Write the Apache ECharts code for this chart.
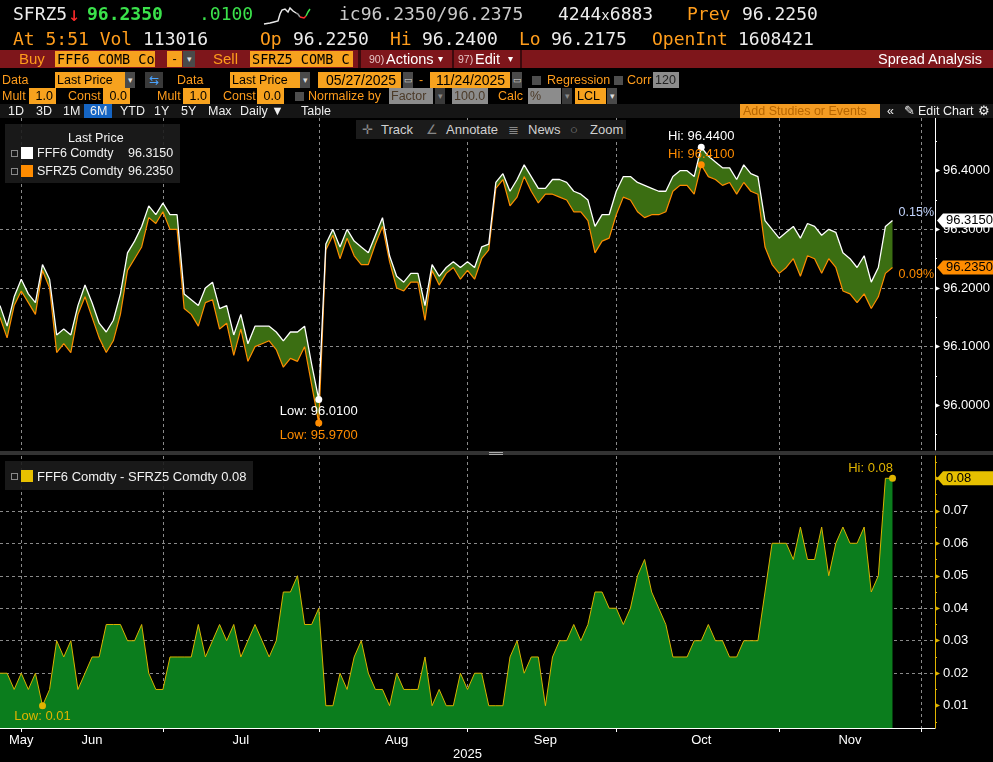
<!DOCTYPE html>
<html><head><meta charset="utf-8">
<script src="https://cdn.jsdelivr.net/npm/echarts@6.0.0/dist/echarts.min.js"></script>
<style>
body{margin:0;background:#000;width:993px;height:762px;overflow:hidden;position:relative;font-family:"Liberation Sans",Arial,sans-serif;}
.a{position:absolute;white-space:pre;}
.m{font-family:"DejaVu Sans Mono",monospace;font-size:18px;line-height:20px;}
.w{color:#ececec}.or{color:#ff9d1c}.gr{color:#3be24b}
.bar{position:absolute;left:0;top:50px;width:993px;height:18px;background:#7e161b;}
.l{position:absolute;white-space:pre;font-size:12.5px;line-height:16px;color:#ff9d1c;}
.f{position:absolute;background:#f7a21e;color:#000;font-size:12.5px;line-height:16px;height:16px;padding-left:2px;box-sizing:border-box;overflow:hidden;white-space:pre;}
.g{position:absolute;background:#8c8c8c;color:#4b3a28;font-size:12.5px;line-height:16px;height:16px;padding-left:2px;box-sizing:border-box;overflow:hidden;white-space:pre;}
.d{position:absolute;background:#4a4a4a;color:#ddd;font-size:9px;line-height:16px;height:16px;text-align:center;}
.cb{position:absolute;width:9px;height:9px;background:#4e4e4e;}
.b6{position:absolute;top:104px;font-size:12.5px;line-height:14px;color:#f0f0f0;white-space:pre;}
#chart{position:absolute;left:0;top:0;width:993px;height:762px;}
.ov{position:absolute;z-index:5;}
.leg{position:absolute;z-index:5;background:rgba(28,28,28,0.9);color:#f2f2f2;font-size:12.5px;}
.leg .r{position:absolute;white-space:pre;line-height:15px;}
.ico{position:absolute;width:5px;height:5px;border:1px solid #888;}
.sq{position:absolute;width:12px;height:12px;}
</style></head>
<body>
<div id="chart"></div>

<!-- header row 1 -->
<div class="a m w" style="left:13px;top:4px">SFRZ5</div>
<div class="a m" style="left:68px;top:4px;color:#ff2a2a;font-size:20px">↓</div>
<div class="a m gr" style="left:87px;top:4px;font-weight:bold">96.2350</div>
<div class="a m gr" style="left:199px;top:4px">.0100</div>
<svg class="a" style="left:262px;top:2px" width="50" height="24">
<polyline points="2,22 8,21 12,20 16,19 18,12 20,8 23,7 26,10 28,6 31,9 34,11" fill="none" stroke="#e8e8e8" stroke-width="1.5"/>
<polyline points="34,11 36,12 38,15" fill="none" stroke="#9a9a9a" stroke-width="1.5"/>
<polyline points="38,15 42,16 44,14" fill="none" stroke="#ff3030" stroke-width="1.5"/>
<polyline points="44,14 46,10 48,7" fill="none" stroke="#3be24b" stroke-width="1.5"/>
</svg>
<div class="a m" style="left:339px;top:4px;color:#cacaca">ic96.2350/96.2375</div>
<div class="a m w" style="left:558px;top:4px">4244<span style="font-size:14px">x</span>6883</div>
<div class="a m or" style="left:687px;top:4px">Prev</div>
<div class="a m w" style="left:742px;top:4px">96.2250</div>
<!-- header row 2 -->
<div class="a m or" style="left:13px;top:29px">At 5:51 Vol</div>
<div class="a m w" style="left:143px;top:29px">113016</div>
<div class="a m or" style="left:260px;top:29px">Op</div>
<div class="a m w" style="left:293px;top:29px">96.2250</div>
<div class="a m or" style="left:390px;top:29px">Hi</div>
<div class="a m w" style="left:422px;top:29px">96.2400</div>
<div class="a m or" style="left:519px;top:29px">Lo</div>
<div class="a m w" style="left:551px;top:29px">96.2175</div>
<div class="a m or" style="left:652px;top:29px">OpenInt</div>
<div class="a m w" style="left:738px;top:29px">1608421</div>

<!-- row 3 red bar -->
<div class="bar"></div>
<div class="l" style="left:19px;top:51px;font-size:15px">Buy</div>
<div class="f" style="left:55px;top:51px;width:100px;font-family:'DejaVu Sans Mono';font-size:13.5px">FFF6 COMB Co</div>
<div class="f" style="left:167px;top:51px;width:15px;text-align:center;padding:0">-</div>
<div class="d" style="left:183px;top:51px;width:12px">▾</div>
<div class="l" style="left:213px;top:51px;font-size:15px">Sell</div>
<div class="f" style="left:250px;top:51px;width:103px;font-family:'DejaVu Sans Mono';font-size:13.5px">SFRZ5 COMB C</div>
<div class="a" style="left:358px;top:50px;width:3px;height:18px;background:#3c0a0d"></div>
<div class="a" style="left:369px;top:51px;font-size:10.5px;line-height:17px;color:#e6c4c4">90)</div>
<div class="a" style="left:386px;top:51px;font-size:14.5px;line-height:16px;color:#fff">Actions</div>
<div class="a" style="left:438px;top:51px;font-size:10px;line-height:16px;color:#fff">▾</div>
<div class="a" style="left:452px;top:50px;width:2px;height:18px;background:#3c0a0d"></div>
<div class="a" style="left:458px;top:51px;font-size:10.5px;line-height:17px;color:#e6c4c4">97)</div>
<div class="a" style="left:475px;top:51px;font-size:14.5px;line-height:16px;color:#fff">Edit</div>
<div class="a" style="left:508px;top:51px;font-size:10px;line-height:16px;color:#fff">▾</div>
<div class="a" style="left:520px;top:50px;width:2px;height:18px;background:#3c0a0d"></div>
<div class="a" style="left:878px;top:51px;font-size:14.5px;line-height:16px;color:#fff">Spread Analysis</div>

<!-- row 4 -->
<div class="l" style="left:2px;top:72px">Data</div>
<div class="f" style="left:55px;top:72px;width:70px">Last Price</div>
<div class="d" style="left:125px;top:72px;width:10px">▾</div>
<div class="a" style="left:145px;top:72px;width:18px;height:16px;background:#3a3a3a;color:#4aa3ff;font-size:12px;line-height:16px;text-align:center">⇆</div>
<div class="l" style="left:177px;top:72px">Data</div>
<div class="f" style="left:230px;top:72px;width:70px">Last Price</div>
<div class="d" style="left:300px;top:72px;width:10px">▾</div>
<div class="f" style="left:318px;top:72px;width:83px;padding-left:8px;font-size:14px">05/27/2025</div>
<div class="d" style="left:403px;top:72px;width:10px">▭</div>
<div class="l" style="left:419px;top:72px">-</div>
<div class="f" style="left:430px;top:72px;width:80px;padding-left:6px;font-size:14px">11/24/2025</div>
<div class="d" style="left:512px;top:72px;width:10px">▭</div>
<div class="cb" style="left:532px;top:76px"></div>
<div class="l" style="left:547px;top:72px">Regression</div>
<div class="cb" style="left:614px;top:76px"></div>
<div class="l" style="left:627px;top:72px">Corr</div>
<div class="g" style="left:653px;top:72px;width:26px;color:#222">120</div>

<!-- row 5 -->
<div class="l" style="left:2px;top:88px">Mult</div>
<div class="f" style="left:29px;top:88px;width:27px;text-align:right;padding-right:3px">1.0</div>
<div class="l" style="left:68px;top:88px">Const</div>
<div class="f" style="left:103px;top:88px;width:27px;text-align:right;padding-right:3px">0.0</div>
<div class="l" style="left:157px;top:88px">Mult</div>
<div class="f" style="left:183px;top:88px;width:27px;text-align:right;padding-right:3px">1.0</div>
<div class="l" style="left:223px;top:88px">Const</div>
<div class="f" style="left:257px;top:88px;width:27px;text-align:right;padding-right:3px">0.0</div>
<div class="cb" style="left:295px;top:92px"></div>
<div class="l" style="left:308px;top:88px">Normalize by</div>
<div class="g" style="left:389px;top:88px;width:44px">Factor</div>
<div class="d" style="left:435px;top:88px;width:10px;background:#3a3a3a;color:#888">▾</div>
<div class="g" style="left:452px;top:88px;width:36px;text-align:right;padding-right:3px">100.0</div>
<div class="l" style="left:498px;top:88px">Calc</div>
<div class="g" style="left:528px;top:88px;width:33px">%</div>
<div class="d" style="left:562px;top:88px;width:10px;background:#3a3a3a;color:#888">▾</div>
<div class="f" style="left:575px;top:88px;width:31px">LCL</div>
<div class="d" style="left:607px;top:88px;width:10px">▾</div>

<!-- row 6 -->
<div class="a" style="left:0;top:104px;width:993px;height:14px;background:#151515"></div>
<div class="b6" style="left:8px">1D</div>
<div class="b6" style="left:36px">3D</div>
<div class="b6" style="left:63px">1M</div>
<div class="a" style="left:84px;top:104px;width:28px;height:14px;background:#1565c4"></div>
<div class="b6" style="left:90px">6M</div>
<div class="b6" style="left:120px">YTD</div>
<div class="b6" style="left:154px">1Y</div>
<div class="b6" style="left:181px">5Y</div>
<div class="b6" style="left:208px">Max</div>
<div class="b6" style="left:240px">Daily ▼</div>
<div class="b6" style="left:301px">Table</div>
<div class="a" style="left:740px;top:104px;width:140px;height:14px;background:#f39b22;color:#b86600;font-size:12.5px;line-height:14px;padding-left:3px;box-sizing:border-box">Add Studies or Events</div>
<div class="b6" style="left:887px">«</div>
<div class="b6" style="left:904px">✎</div>
<div class="b6" style="left:918px">Edit Chart</div>
<div class="b6" style="left:978px">⚙</div>

<!-- chart toolbar overlay -->
<div class="ov" style="left:356px;top:120px;width:270px;height:19px;background:#1b1b1b;color:#d0d0d0;font-size:13px;line-height:19px">
<span class="a" style="left:6px;color:#888">✛</span><span class="a" style="left:25px">Track</span>
<span class="a" style="left:70px;color:#888">∠</span><span class="a" style="left:90px">Annotate</span>
<span class="a" style="left:152px;color:#888">≣</span><span class="a" style="left:172px">News</span>
<span class="a" style="left:214px;color:#888">○</span><span class="a" style="left:234px">Zoom</span>
</div>

<!-- legends -->
<div class="leg" style="left:5px;top:124px;width:175px;height:59px">
<div class="r" style="left:63px;top:7px">Last Price</div>
<div class="ico" style="left:6px;top:26px"></div><div class="sq" style="left:16px;top:23px;background:#fff"></div>
<div class="r" style="left:32px;top:22px">FFF6 Comdty</div><div class="r" id="lv1" style="left:123px;top:22px"></div>
<div class="ico" style="left:6px;top:44px"></div><div class="sq" style="left:16px;top:41px;background:#ff8c00"></div>
<div class="r" style="left:32px;top:40px">SFRZ5 Comdty</div><div class="r" id="lv2" style="left:123px;top:40px"></div>
</div>
<div class="leg" style="left:5px;top:461px;width:248px;height:29px;font-size:13px">
<div class="ico" style="left:6px;top:12px"></div><div class="sq" style="left:16px;top:9px;background:#e8c000"></div>
<div class="r" id="lv3" style="left:32px;top:8px"></div>
</div>

<!-- panel separator -->
<div class="ov" style="left:0;top:451px;width:993px;height:4px;background:#333"></div>
<div class="ov" style="left:489px;top:452px;width:14px;height:1px;background:#aaa"></div>
<div class="ov" style="left:489px;top:454px;width:14px;height:1px;background:#aaa"></div>

<script>
// ---- data ----
const holidays = ['2025-06-19', '2025-07-04', '2025-09-01'];
function tradingDays(start, end) {
  const out = [];
  let d = new Date(start + 'T00:00:00Z');
  const e = new Date(end + 'T00:00:00Z');
  while (d <= e) {
    const s = d.toISOString().slice(0, 10);
    const wd = d.getUTCDay();
    if (wd !== 0 && wd !== 6 && holidays.indexOf(s) < 0) out.push(s);
    d = new Date(d.getTime() + 86400000);
  }
  return out;
}
const dates = tradingDays('2025-05-27', '2025-12-02');

const fff6 = [
96.170, 96.135, 96.185, 96.215, 96.190, 96.175, 96.240, 96.215, 96.120, 96.130,
96.120, 96.170, 96.205, 96.175, 96.140, 96.125, 96.145, 96.190, 96.260, 96.280,
96.305, 96.340, 96.325, 96.345, 96.325, 96.325, 96.190, 96.180, 96.170, 96.200,
96.210, 96.165, 96.170, 96.120, 96.155, 96.105, 96.135, 96.135, 96.135, 96.125,
96.110, 96.125, 96.125, 96.135, 96.070, 96.010, 96.275, 96.300, 96.270, 96.300,
96.280, 96.270, 96.260, 96.290, 96.320, 96.255, 96.220, 96.210, 96.225, 96.225,
96.170, 96.240, 96.220, 96.235, 96.245, 96.235, 96.245, 96.235, 96.270, 96.275,
96.380, 96.395, 96.365, 96.385, 96.410, 96.390, 96.370, 96.370, 96.385, 96.385,
96.380, 96.365, 96.360, 96.350, 96.305, 96.325, 96.325, 96.365, 96.390, 96.390,
96.380, 96.375, 96.370, 96.365, 96.365, 96.390, 96.400, 96.400, 96.390, 96.440,
96.425, 96.415, 96.405, 96.405, 96.385, 96.410, 96.395, 96.390, 96.315, 96.300,
96.285, 96.295, 96.305, 96.285, 96.310, 96.305, 96.290, 96.300, 96.295, 96.260,
96.250, 96.235, 96.255, 96.210, 96.235, 96.305, 96.315
];
const sfrz5 = [
96.150, 96.115, 96.170, 96.195, 96.175, 96.155, 96.230, 96.200, 96.090, 96.105,
96.090, 96.155, 96.185, 96.150, 96.115, 96.090, 96.110, 96.155, 96.230, 96.250,
96.270, 96.320, 96.310, 96.330, 96.300, 96.300, 96.165, 96.155, 96.135, 96.175,
96.180, 96.130, 96.140, 96.085, 96.130, 96.075, 96.100, 96.105, 96.110, 96.095,
96.065, 96.080, 96.075, 96.100, 96.035, 95.970, 96.265, 96.290, 96.250, 96.285,
96.255, 96.240, 96.240, 96.275, 96.305, 96.245, 96.200, 96.195, 96.210, 96.210,
96.145, 96.230, 96.205, 96.225, 96.235, 96.215, 96.230, 96.215, 96.250, 96.265,
96.370, 96.385, 96.340, 96.355, 96.390, 96.365, 96.345, 96.360, 96.360, 96.355,
96.350, 96.330, 96.330, 96.315, 96.260, 96.280, 96.285, 96.325, 96.355, 96.350,
96.330, 96.320, 96.325, 96.325, 96.330, 96.365, 96.375, 96.375, 96.360, 96.410,
96.390, 96.385, 96.375, 96.380, 96.360, 96.380, 96.365, 96.360, 96.270, 96.240,
96.225, 96.235, 96.250, 96.220, 96.255, 96.250, 96.225, 96.250, 96.235, 96.195,
96.190, 96.175, 96.190, 96.165, 96.185, 96.225, 96.235
];
// spread = FFF6 - SFRZ5 (what the lower panel plots)
const spread = fff6.map((v, i) => +(v - sfrz5[i]).toFixed(3));

const upperTicks = [96.0, 96.1, 96.2, 96.3, 96.4];
const upperMinor = [95.95, 96.05, 96.15, 96.25, 96.35, 96.45];
const lowerTicks = [0.01, 0.02, 0.03, 0.04, 0.05, 0.06, 0.07, 0.08];
const lowerMinor = [0.005, 0.015, 0.025, 0.035, 0.045, 0.055, 0.065, 0.075, 0.085];
const monthEnds = ['2025-05-30', '2025-06-30', '2025-07-31', '2025-08-29', '2025-09-30', '2025-10-31', '2025-11-28'];
const monthLabelDates = ['2025-05-30', '2025-06-13', '2025-07-16', '2025-08-15', '2025-09-16', '2025-10-16', '2025-11-14'];
const monthNames = ['May', 'Jun', 'Jul', 'Aug', 'Sep', 'Oct', 'Nov'];
const yearLabel = {date: '2025-08-29', text: '2025'};
const pctChange = ['0.15%', '0.09%'];
const names = ['FFF6 Comdty', 'SFRZ5 Comdty'];

// ---- chart ----
const FONT = 'Liberation Sans';
const gridLine = {color: '#8a8a8a', width: 1, type: [3, 3]};
const isMonthEnd = (i) => monthEnds.indexOf(dates[i]) >= 0;
const labelIdx = (i) => monthLabelDates.indexOf(dates[i]);

const last = fff6.length - 1;
document.getElementById('lv1').textContent = fff6[last].toFixed(4);
document.getElementById('lv2').textContent = sfrz5[last].toFixed(4);
document.getElementById('lv3').textContent = names[0] + ' - ' + names[1] + ' ' + spread[last].toFixed(2);

const hiSpread = Math.max.apply(null, spread);
const hiIdx = spread.lastIndexOf(hiSpread);

const chart = echarts.init(document.getElementById('chart'), null, {renderer: 'canvas'});
const option = {
  animation: false,
  backgroundColor: 'transparent',
  textStyle: {fontFamily: FONT},
  grid: [
    {left: 0, top: 118, width: 935, height: 332},
    {left: 0, top: 456, width: 935, height: 272}
  ],
  xAxis: [
    {type: 'category', gridIndex: 0, data: dates, boundaryGap: false,
     axisLine: {show: false}, axisTick: {show: false}, axisLabel: {show: false},
     splitLine: {show: true, interval: (i) => isMonthEnd(i), lineStyle: gridLine}},
    {type: 'category', gridIndex: 1, data: dates, boundaryGap: false,
     axisLine: {show: true, lineStyle: {color: '#ffffff', width: 1}},
     axisTick: {show: true, interval: (i) => isMonthEnd(i), length: 4, lineStyle: {color: '#ffffff'}},
     axisLabel: {
       interval: (i) => labelIdx(i) >= 0 || dates[i] === yearLabel.date,
       formatter: (v) => {
         const k = monthLabelDates.indexOf(v);
         if (k >= 0) return monthNames[k];
         if (v === yearLabel.date) return '\n' + yearLabel.text;
         return '';
       },
       color: '#ffffff', fontSize: 13, margin: 5, fontFamily: FONT, lineHeight: 14
     },
     splitLine: {show: true, interval: (i) => isMonthEnd(i), lineStyle: gridLine}}
  ],
  yAxis: [
    {type: 'value', gridIndex: 0, position: 'right', min: 95.9238, max: 96.4899,
     axisLine: {show: true, lineStyle: {color: '#ffffff', width: 1}},
     axisTick: {show: false, customValues: upperTicks},
     axisLabel: {customValues: upperTicks, margin: 0,
       formatter: (v) => '{a|▸}{b|' + v.toFixed(4) + '}',
       rich: {a: {color: '#ffffff', fontSize: 10, padding: [0, 3, 0, 0]}, b: {color: '#ffffff', fontSize: 13, fontFamily: FONT}}},
     splitLine: {show: true, lineStyle: gridLine, showMinLine: false, showMaxLine: false}},
    {type: 'value', gridIndex: 0, position: 'right', min: 95.9238, max: 96.4899,
     axisLine: {show: false}, axisLabel: {show: false}, splitLine: {show: false},
     axisTick: {show: true, customValues: upperMinor, length: 2, lineStyle: {color: '#ffffff'}}},
    {type: 'value', gridIndex: 1, position: 'right', min: 0.00314, max: 0.08686,
     axisLine: {show: true, lineStyle: {color: '#e0b400', width: 1}},
     axisTick: {show: false, customValues: lowerTicks},
     axisLabel: {customValues: lowerTicks, margin: 0,
       formatter: (v) => '{a|▸}{b|' + v.toFixed(2) + '}',
       rich: {a: {color: '#e0b400', fontSize: 10, padding: [0, 3, 0, 0]}, b: {color: '#ffffff', fontSize: 13, fontFamily: FONT}}},
     splitLine: {show: true, lineStyle: gridLine, showMinLine: false, showMaxLine: false}},
    {type: 'value', gridIndex: 1, position: 'right', min: 0.00314, max: 0.08686,
     axisLine: {show: false}, axisLabel: {show: false}, splitLine: {show: false},
     axisTick: {show: true, customValues: lowerMinor, length: 2, lineStyle: {color: '#e0b400'}}}
  ],
  series: [
    {name: 'base', type: 'line', xAxisIndex: 0, yAxisIndex: 0, data: sfrz5, stack: 'band',
     symbol: 'none', silent: true, lineStyle: {opacity: 0}, z: 1},
    {name: 'band', type: 'line', xAxisIndex: 0, yAxisIndex: 0, data: spread, stack: 'band',
     symbol: 'none', silent: true, lineStyle: {opacity: 0}, areaStyle: {color: '#3b6e12', opacity: 1}, z: 1},
    {name: names[1], type: 'line', xAxisIndex: 0, yAxisIndex: 0, data: sfrz5, symbol: 'none',
     lineStyle: {color: '#ff8c00', width: 1.2}, itemStyle: {color: '#ff8c00'}, z: 3,
     markPoint: {symbol: 'circle', symbolSize: 7, silent: true, itemStyle: {color: '#ff8c00'},
       label: {color: '#ff8c00', fontSize: 13, fontFamily: FONT},
       data: [
         {type: 'max', label: {position: 'top', distance: 0, formatter: (p) => 'Hi: ' + p.value.toFixed(4)}},
         {type: 'min', label: {position: 'bottom', distance: 3, formatter: (p) => 'Low: ' + p.value.toFixed(4)}}
       ]}},
    {name: names[0], type: 'line', xAxisIndex: 0, yAxisIndex: 0, data: fff6, symbol: 'none',
     lineStyle: {color: '#ffffff', width: 1.3}, itemStyle: {color: '#ffffff'}, z: 4,
     markPoint: {symbol: 'circle', symbolSize: 7, silent: true, itemStyle: {color: '#ffffff'},
       label: {color: '#ffffff', fontSize: 13, fontFamily: FONT},
       data: [
         {type: 'max', label: {position: 'top', distance: 1, formatter: (p) => 'Hi: ' + p.value.toFixed(4)}},
         {type: 'min', label: {position: 'bottom', distance: 2, formatter: (p) => 'Low: ' + p.value.toFixed(4)}}
       ]}},
    {name: 'spread', type: 'line', xAxisIndex: 1, yAxisIndex: 2, data: spread, symbol: 'none',
     lineStyle: {color: '#d9b300', width: 1}, itemStyle: {color: '#e0b400'},
     areaStyle: {color: '#0b7d1d', origin: 'start', opacity: 1}, z: 2,
     markPoint: {symbol: 'circle', symbolSize: 7, silent: true, itemStyle: {color: '#e0b400'},
       label: {color: '#e0b400', fontSize: 13, fontFamily: FONT},
       data: [
         {type: 'min', label: {position: 'bottom', distance: 1, formatter: (p) => 'Low: ' + p.value.toFixed(2)}},
         {coord: [dates[hiIdx], hiSpread], value: hiSpread,
          label: {position: 'left', distance: 1, offset: [5, -10], formatter: (p) => 'Hi: ' + (+p.value).toFixed(2)}}
       ]}}
  ]
};
chart.setOption(option);

// current-value tags placed through the axes' scales
const yW = chart.convertToPixel({yAxisIndex: 0}, fff6[last]);
const yO = chart.convertToPixel({yAxisIndex: 0}, sfrz5[last]);
const yS = chart.convertToPixel({yAxisIndex: 2}, spread[last]);
function tag(y, bg, txt) {
  return {type: 'group', x: 937, y: y, z: 100, zlevel: 1, children: [
    {type: 'polygon', z: 100, zlevel: 1, shape: {points: [[0, 0], [6, -7], [60, -7], [60, 7], [6, 7]]}, style: {fill: bg}},
    {type: 'text', z: 101, zlevel: 1, x: 9, y: 0, style: {text: txt, fill: '#000', fontSize: 13, fontFamily: FONT, verticalAlign: 'middle', align: 'left'}}
  ]};
}
chart.setOption({graphic: [
  tag(yW, '#ffffff', fff6[last].toFixed(4)),
  tag(yO, '#ff8c00', sfrz5[last].toFixed(4)),
  tag(yS, '#e6c000', spread[last].toFixed(2)),
  {type: 'text', x: 934, y: yW - 8, z: 100, zlevel: 1, style: {text: pctChange[0], fill: '#c4d6ff', fontSize: 12.5, fontFamily: FONT, align: 'right', verticalAlign: 'middle'}},
  {type: 'text', x: 934, y: yO + 7, z: 100, zlevel: 1, style: {text: pctChange[1], fill: '#ff8c00', fontSize: 12.5, fontFamily: FONT, align: 'right', verticalAlign: 'middle'}}
]});
</script>
</body></html>
